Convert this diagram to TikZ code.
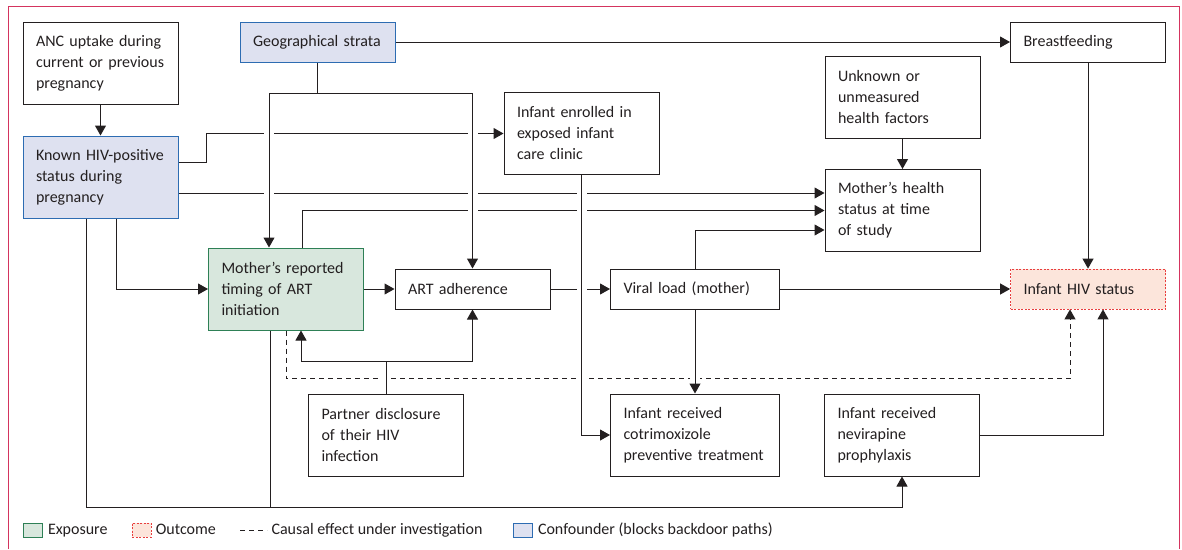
\documentclass[tikz,border=0pt]{standalone}
\usepackage{fontspec}
\setmainfont{Carlito}
\usetikzlibrary{arrows.meta,positioning}

\definecolor{confill}{RGB}{222,225,240}
\definecolor{conline}{RGB}{45,108,178}
\definecolor{expfill}{RGB}{216,231,221}
\definecolor{expline}{RGB}{46,128,86}
\definecolor{outfill}{RGB}{252,229,219}
\definecolor{outred}{RGB}{232,62,62}
\definecolor{framecol}{RGB}{212,52,94}
\definecolor{ink}{RGB}{35,31,32}

\tikzset{
  box/.style={draw=ink, line width=1pt, text width=129pt, inner xsep=13pt,
    inner ysep=0pt, align=left, minimum height=82pt},
  flat/.style={minimum height=40pt},
  wide/.style={text width=143pt},
  conf/.style={fill=confill, draw=conline},
  expo/.style={fill=expfill, draw=expline},
  outc/.style={fill=outfill, draw=outred, line width=0.8pt, dash pattern=on 2pt off 1.5pt},
  causal/.style={dash pattern=on 5pt off 4pt},
  legsq/.style={minimum width=19pt, minimum height=14pt, inner sep=0pt, line width=1pt},
  legtext/.style={inner sep=0pt, text height=11pt, text depth=3pt},
}

\begin{document}
\begin{tikzpicture}[x=1pt, y=-1pt, font=\fontsize{16}{21}\selectfont,
  line width=1pt, draw=ink, text=ink, >={Triangle[length=10pt,width=11pt]}]

\useasboundingbox (0,0) rectangle (1182,549);
\draw[framecol] (8,549) -- (8,6) -- (1179,6) -- (1179,549);

% boxes
\node[box] (anc) at (100.5,63) {ANC uptake during\\current or previous\\pregnancy};
\node[box, conf] (known) at (100.5,177) {Known HIV-positive\\status during\\pregnancy};
\node[box, flat, conf] (geo) at (317.5,42) {Geographical strata};
\node[box, flat] (breast) at (1088,42) {Breastfeeding};
\node[box] (unknown) at (902.5,97) {Unknown or\\unmeasured\\health factors};
\node[box] (health) at (902.5,210.5) {Mother’s health\\status at time\\of study};
\node[box] (enrolled) at (581.5,133.5) {Infant enrolled in\\exposed infant\\care clinic};
\node[box, expo] (timing) at (286,289) {Mother’s reported\\timing of ART\\initiation};
\node[box, flat] (art) at (472.5,289) {ART adherence};
\node[box, flat, wide] (viral) at (695,289) {Viral load (mother)};
\node[box, flat, outc] (status) at (1088,289) {Infant HIV status};
\node[box] (partner) at (386,435) {Partner disclosure\\of their HIV\\infection};
\node[box, wide] (cotrim) at (695,435) {Infant received\\cotrimoxizole\\preventive treatment};
\node[box] (nevir) at (902,435) {Infant received\\nevirapine\\prophylaxis};

% lines that get cut where others cross them
\draw[->] ([yshift=15pt]known.east) -- ++(28,0) |- (enrolled.west);
\draw[->] ([yshift=-16pt]known.east) -- ([yshift=-16pt]known.east -| health.west);
\draw[->] ([xshift=16pt]timing.north) |- (health.west);
\draw[->] (art) -- (viral);
\draw[->, causal] (timing.south) -- ++(0,48) -| ([xshift=-18pt]status.south);

\foreach \gx/\gy in {269/133.5, 472.5/133.5, 269/193, 472.5/193, 581.5/193,
    472.5/210.5, 581.5/210.5, 581.5/289, 386/378, 581.5/378, 695/378}
  \fill[white] (\gx-5,\gy-3) rectangle (\gx+5,\gy+3);

% crossing lines
\draw (geo.south) -- ++(0,31) coordinate (geoj);
\draw[->] (geoj) -| ([xshift=-17pt]timing.north);
\draw[->] (geoj) -| (art.north);
\draw[->] (enrolled.south) |- (cotrim.west);
\draw (partner.north) -- ++(0,-32) coordinate (partj);
\draw[->] (partj) -| ([xshift=15pt]timing.south);
\draw[->] (partj) -| (art.south);
\draw[->] (viral) -- (cotrim);

% the rest
\draw[->] (anc) -- (known);
\draw[->] (geo) -- (breast);
\draw[->] (viral.north) |- ([yshift=-19.5pt]health.west);
\draw[->] (unknown) -- (health);
\draw[->] (breast) -- (status);
\draw[->] (timing) -- (art);
\draw[->] (viral) -- (status);
\draw[->] ([xshift=15.5pt]known.south) |- (timing.west);
\draw[->] ([xshift=-14.5pt]known.south) -- ++(0,289) -| (nevir.south);
\draw ([xshift=-16pt]timing.south) -- ++(0,177);
\draw[->] (nevir.east) -| ([xshift=15pt]status.south);

% legend
\node[legsq, expo] (lexp) at (32.5,530) {};
\node[right=5pt of lexp, legtext] (lexptext) {Exposure};
\node[legsq, outc] (lout) at (141.5,530) {};
\node[right=4pt of lout, legtext] (louttext) {Outcome};
\coordinate (lcausa) at (240,530);
\coordinate (lcausb) at (267,530);
\draw[causal] (lcausa) -- (lcausb);
\node[right=4pt of lcausb, legtext] (lcaustext) {Causal effect under investigation};
\node[legsq, conf] (lconf) at (522.5,530) {};
\node[right=5pt of lconf, legtext] (lconftext) {Confounder (blocks backdoor paths)};
\end{tikzpicture}
\end{document}
